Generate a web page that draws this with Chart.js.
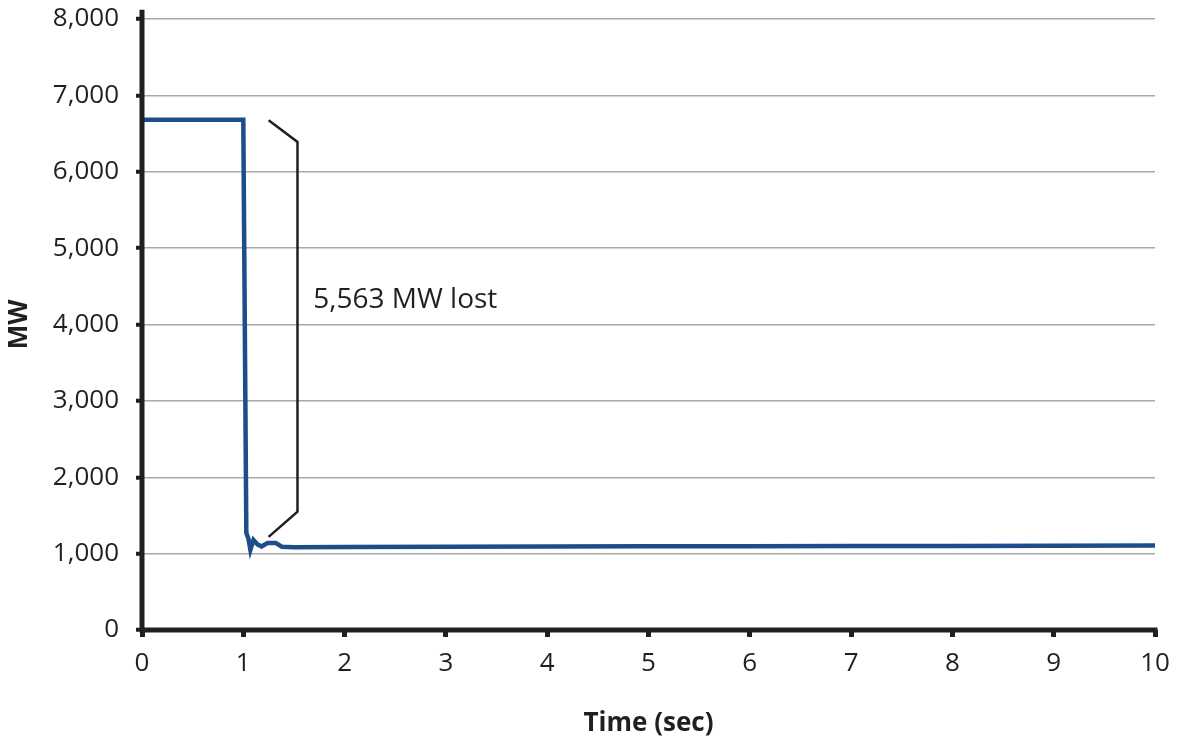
<!DOCTYPE html>
<html>
<head>
<meta charset="utf-8">
<script src="https://cdn.jsdelivr.net/npm/chart.js@4"></script>
<style>
  body { margin: 0; background: #fff; }
  canvas { display: block; }
</style>
</head>
<body>
<canvas id="chart" width="1177" height="741"></canvas>
<script>
// generator output
var timeSec = [0, 1.0, 1.03, 1.05, 1.07, 1.10, 1.14, 1.18, 1.24, 1.32, 1.38, 1.5, 2, 3, 4, 5, 6, 7, 8, 9, 10]
var mw = [6680, 6680, 1270, 1200, 1050, 1180, 1120, 1095, 1140, 1140, 1090, 1085, 1088, 1090, 1092, 1095, 1097, 1099, 1101, 1103, 1105]

// the bracket next to the drop
var bracketSec = [1.25, 1.535, 1.535, 1.25]
var bracketMW = [6675, 6390, 1550, 1220]

var xTicks = [0, 1, 2, 3, 4, 5, 6, 7, 8, 9, 10]
var yTicks = [0, 1000, 2000, 3000, 4000, 5000, 6000, 7000, 8000]

var lostText = '5,563 MW lost'
var lostAt = { x: 1.69, y: 4215 }

var lineColor = '#1d4e89'
var ink = '#231f20'

function toPoints(xs, ys) {
    var pts = []
    for (var i = 0; i < xs.length; i++) {
        pts.push({ x: xs[i], y: ys[i] })
    }
    return pts
}

// axis lines + the annotation text
var extras = {
    id: 'extras',
    afterDatasetsDraw: function (chart) {
        var ctx = chart.ctx
        var xs = chart.scales.x
        var ys = chart.scales.y
        var x0 = xs.getPixelForValue(0)
        var x1 = xs.getPixelForValue(10)
        var y0 = ys.getPixelForValue(0)
        var yTop = ys.getPixelForValue(8120)
        ctx.save()
        ctx.strokeStyle = ink
        ctx.lineWidth = 5
        ctx.beginPath()
        ctx.moveTo(x0, yTop)
        ctx.lineTo(x0, y0 + 2.5)
        ctx.moveTo(x0 - 2.5, y0)
        ctx.lineTo(x1 + 2.5, y0)
        ctx.stroke()

        ctx.fillStyle = ink
        ctx.font = '28px "Open Sans"'
        ctx.textBaseline = 'alphabetic'
        ctx.textAlign = 'left'
        ctx.fillText(lostText, xs.getPixelForValue(lostAt.x), ys.getPixelForValue(lostAt.y))
        ctx.restore()
    }
}

var ctx = document.getElementById('chart').getContext('2d')
var myChart = new Chart(ctx, {
    type: 'line',
    data: {
        datasets: [{
            label: 'MW',
            data: toPoints(timeSec, mw),
            borderColor: lineColor,
            borderWidth: 4.5,
            borderJoinStyle: 'miter',
            pointRadius: 0,
            tension: 0
        }, {
            label: 'bracket',
            data: toPoints(bracketSec, bracketMW),
            borderColor: ink,
            borderWidth: 2.5,
            pointRadius: 0,
            tension: 0
        }]
    },
    options: {
        responsive: false,
        animation: false,
        layout: { padding: { top: 19, right: 22, left: 0, bottom: 0 } },
        plugins: {
            legend: { display: false },
            tooltip: { enabled: false }
        },
        scales: {
            x: {
                type: 'linear',
                min: 0,
                max: 10,
                afterBuildTicks: function (scale) {
                    scale.ticks = xTicks.map(function (v) { return { value: v } })
                },
                afterFit: function (scale) {
                    scale.height = 111
                    scale.paddingLeft = 0
                    scale.paddingRight = 0
                },
                border: { display: false },
                grid: {
                    drawOnChartArea: false,
                    tickColor: ink,
                    tickWidth: 5,
                    tickLength: 7
                },
                ticks: {
                    color: ink,
                    padding: 11,
                    font: { family: 'Open Sans', size: 26 },
                    maxRotation: 0
                },
                title: {
                    display: true,
                    text: 'Time (sec)',
                    color: ink,
                    font: { family: 'Open Sans', size: 26, weight: 'bold' },
                    padding: { top: 0, bottom: 2 }
                }
            },
            y: {
                min: 0,
                max: 8000,
                afterBuildTicks: function (scale) {
                    scale.ticks = yTicks.map(function (v) { return { value: v } })
                },
                afterFit: function (scale) {
                    scale.width = 142
                    scale.paddingTop = 0
                    scale.paddingBottom = 0
                },
                border: { display: false },
                grid: {
                    color: '#a9a9a9',
                    lineWidth: 1.5,
                    tickColor: ink,
                    tickWidth: 4,
                    tickLength: 6
                },
                ticks: {
                    color: ink,
                    padding: 17,
                    font: { family: 'Open Sans', size: 26 },
                    callback: function (v) { return v.toLocaleString('en-US') }
                },
                title: {
                    display: true,
                    text: 'MW',
                    color: ink,
                    font: { family: 'Open Sans', size: 26, weight: 'bold' },
                    padding: { top: 4, bottom: 0 }
                }
            }
        }
    },
    plugins: [extras]
})
</script>
</body>
</html>
